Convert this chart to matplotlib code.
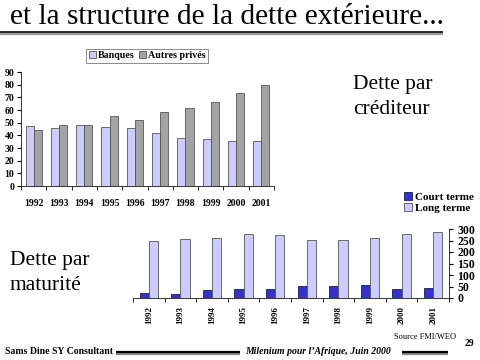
import matplotlib
matplotlib.use("Agg")
import matplotlib.pyplot as plt
import numpy as np
from matplotlib.lines import Line2D

years = ["1992", "1993", "1994", "1995", "1996", "1997", "1998", "1999", "2000", "2001"]

# Dette par créditeur
banques = [47, 46, 48, 46.5, 45.5, 42, 38, 37.5, 35.5, 35.5]
autres_prives = [44.5, 48.5, 48, 55.5, 52.5, 58.5, 61.5, 66.5, 73.5, 79.5]

# Dette par maturité
court_terme = [22, 19, 33, 39, 39, 53, 53, 58, 39, 42]
long_terme = [247, 257, 259, 277, 273, 251, 254, 259, 277, 286]

W, H = 480, 360
SERIF = "Liberation Serif"

LAVENDER = "#CCCCFF"
GREY = "#A3A3A3"
BLUE = "#3333CC"
EDGE = "#555555"


def rect(x0, y0, x1, y1):
    # pixel box -> figure fraction
    return [x0 / W, 1 - y1 / H, (x1 - x0) / W, (y1 - y0) / H]


def hline(fig, x0, x1, y, lw, color):
    fig.add_artist(Line2D([x0 / W, x1 / W], [1 - y / H, 1 - y / H],
                          transform=fig.transFigure, lw=lw, color=color,
                          solid_capstyle="butt"))


fig = plt.figure(figsize=(4.8, 3.6), dpi=100)
fig.patch.set_facecolor("white")

# title with shadowed underline
fig.text(10 / W, 1 - 17 / H, "et la structure de la dette extérieure...",
         family=SERIF, fontsize=21.2, ha="left", va="center")
hline(fig, 0, 443, 34, 1.6, "#999999")
hline(fig, 0, 443, 32.3, 1.2, "black")

x = np.arange(len(years))

# top chart
ax1 = fig.add_axes(rect(21, 72, 274, 186))
ax1.bar(x - 0.16, banques, width=0.32, color=LAVENDER, edgecolor=EDGE,
        linewidth=0.6, label="Banques")
ax1.bar(x + 0.16, autres_prives, width=0.32, color=GREY, edgecolor=EDGE,
        linewidth=0.6, label="Autres privés")
ax1.set_xlim(-0.5, len(years) - 0.5)
ax1.set_ylim(0, 90)
ax1.set_yticks(range(0, 91, 10))
ax1.set_xticks(x)
ax1.set_xticklabels(years)
ax1.set_xticks(np.arange(-0.5, len(years)), minor=True)
ax1.tick_params(axis="x", which="major", length=0, pad=9)
ax1.tick_params(axis="x", which="minor", length=3, direction="out")
ax1.tick_params(axis="y", length=3, direction="out", pad=2)
for lab in ax1.get_xticklabels() + ax1.get_yticklabels():
    lab.set_family(SERIF)
    lab.set_fontweight("bold")
    lab.set_fontsize(7)
for s in ("top", "right"):
    ax1.spines[s].set_visible(False)
for s in ("left", "bottom"):
    ax1.spines[s].set_color("#333333")
    ax1.spines[s].set_linewidth(0.7)
leg1 = ax1.legend(loc="lower center", bbox_to_anchor=((147 - 21) / 253, 1.08),
                  ncol=2, frameon=True, fancybox=False, edgecolor="#555555",
                  prop={"family": SERIF, "weight": "bold", "size": 7.2},
                  handlelength=0.7, handleheight=0.7, handletextpad=0.2,
                  columnspacing=0.4, borderpad=0.25, borderaxespad=0)
leg1.get_frame().set_linewidth(0.6)

fig.text(353 / W, 1 - 84 / H, "Dette par", family=SERIF, fontsize=15.5,
         ha="left", va="center")
fig.text(353 / W, 1 - 110 / H, "créditeur", family=SERIF, fontsize=15.5,
         ha="left", va="center")

# bottom chart
ax2 = fig.add_axes(rect(133, 229, 449, 298))
ax2.bar(x - 0.145, court_terme, width=0.29, color=BLUE, edgecolor="#1a1a66",
        linewidth=0.6, label="Court terme")
ax2.bar(x + 0.145, long_terme, width=0.29, color=LAVENDER, edgecolor=EDGE,
        linewidth=0.6, label="Long terme")
ax2.set_xlim(-0.5, len(years) - 0.5)
ax2.set_ylim(0, 300)
ax2.set_yticks(range(0, 301, 50))
ax2.yaxis.tick_right()
ax2.set_xticks(x)
ax2.set_xticklabels(years, rotation=90)
ax2.set_xticks(np.arange(-0.5, len(years)), minor=True)
ax2.tick_params(axis="x", which="major", length=0, pad=6)
ax2.tick_params(axis="x", which="minor", length=3, direction="out")
ax2.tick_params(axis="y", length=3, direction="out", pad=3)
for lab in ax2.get_xticklabels():
    lab.set_family(SERIF)
    lab.set_fontweight("bold")
    lab.set_fontsize(6.5)
for lab in ax2.get_yticklabels():
    lab.set_family(SERIF)
    lab.set_fontweight("bold")
    lab.set_fontsize(8.5)
for s in ("top", "left"):
    ax2.spines[s].set_visible(False)
for s in ("right", "bottom"):
    ax2.spines[s].set_color("#333333")
    ax2.spines[s].set_linewidth(0.7)
handles, labels = ax2.get_legend_handles_labels()
leg2 = fig.legend(handles=handles, labels=labels,
                  loc="upper left", bbox_to_anchor=(404 / W, 1 - 192 / H),
                  frameon=False, prop={"family": SERIF, "weight": "bold", "size": 8},
                  handlelength=0.7, handleheight=0.7, handletextpad=0.3,
                  labelspacing=0.15, borderpad=0, borderaxespad=0)

fig.text(10 / W, 1 - 260 / H, "Dette par", family=SERIF, fontsize=15.5,
         ha="left", va="center")
fig.text(10 / W, 1 - 285 / H, "maturité", family=SERIF, fontsize=15.5,
         ha="left", va="center")

# footer
fig.text(394 / W, 1 - 337 / H, "Source FMI/WEO", family=SERIF, fontsize=6,
         ha="left", va="center")
fig.text(465 / W, 1 - 344 / H, "29", family=SERIF, fontsize=7, weight="bold",
         ha="left", va="center")
fig.text(5 / W, 1 - 352 / H, "Sams Dine SY Consultant", family=SERIF, fontsize=7,
         weight="bold", ha="left", va="center")
fig.text(245 / W, 1 - 352 / H, "Milenium pour l\u2019Afrique, Juin 2000", family=SERIF,
         fontsize=7, weight="bold", style="italic", ha="left", va="center")
for x0, x1 in ((116, 240), (402, 448)):
    hline(fig, x0, x1, 353.5, 1.6, "#888888")
    hline(fig, x0, x1, 351.8, 1.6, "black")

fig.savefig("out.png", dpi=100, facecolor="white")
